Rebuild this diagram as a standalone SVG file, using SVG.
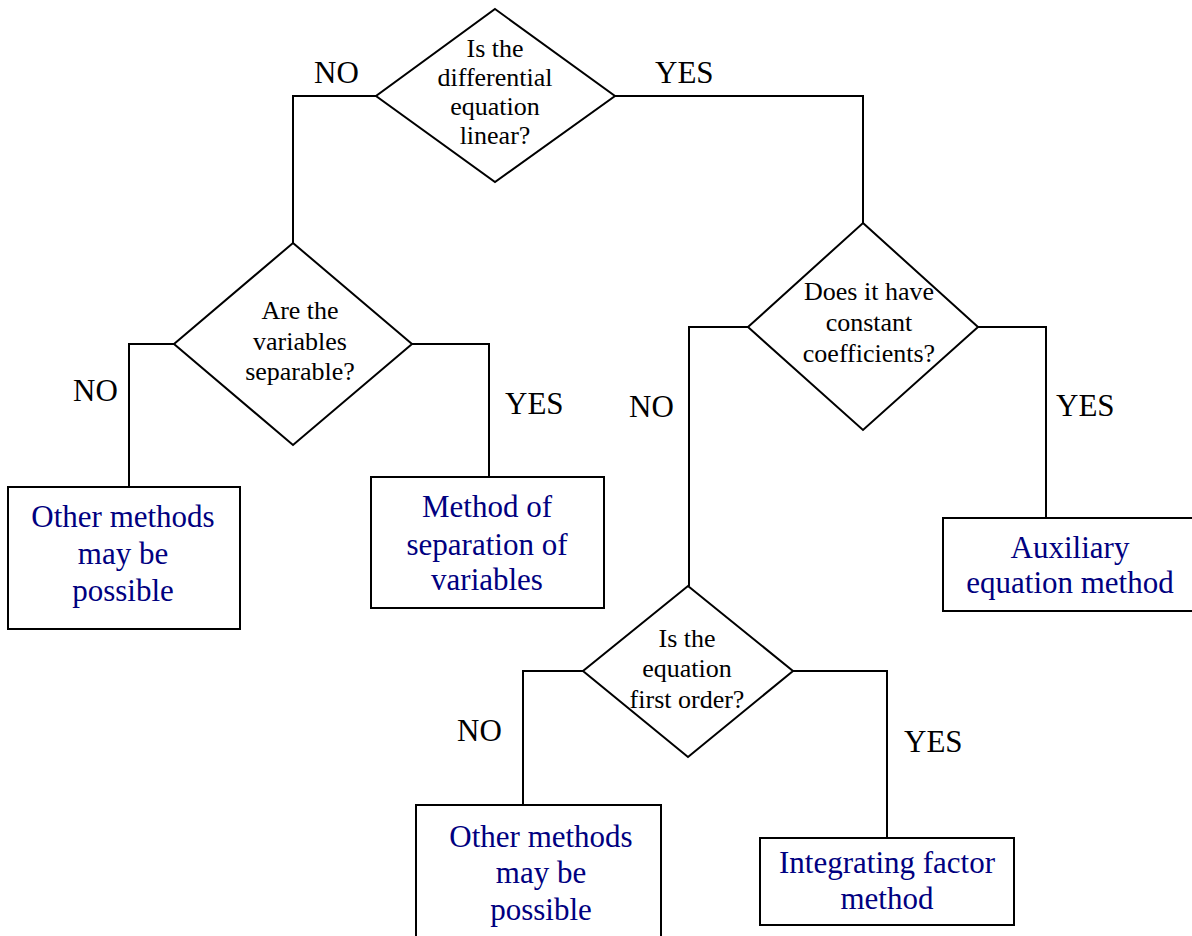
<svg xmlns="http://www.w3.org/2000/svg" width="1192" height="936" viewBox="0 0 1192 936">
<style>
.shape{fill:#fff;stroke:#000;stroke-width:2}
.conn{fill:none;stroke:#000;stroke-width:2}
.q{font-family:"Liberation Serif","Times New Roman",serif;font-size:26px;fill:#000;text-anchor:middle}
.lbl{font-family:"Liberation Serif","Times New Roman",serif;font-size:31px;fill:#000}
.ans{font-family:"Liberation Serif","Times New Roman",serif;font-size:31px;fill:#000080;text-anchor:middle}
</style>
<rect width="1192" height="936" fill="#fff"/>
<g id="connectors">
<path class="conn" d="M376,96 H293 V243"/>
<path class="conn" d="M615,96 H863 V223"/>
<path class="conn" d="M174,344 H129 V487"/>
<path class="conn" d="M412,344 H489 V477"/>
<path class="conn" d="M748,327 H689 V586"/>
<path class="conn" d="M978,327 H1046 V517"/>
<path class="conn" d="M583,671 H523 V805"/>
<path class="conn" d="M793,671 H887 V838"/>
</g>
<g id="labels">
<text class="lbl" x="314" y="83">NO</text>
<text class="lbl" x="655" y="83">YES</text>
<text class="lbl" x="73" y="401">NO</text>
<text class="lbl" x="505" y="414">YES</text>
<text class="lbl" x="629" y="417">NO</text>
<text class="lbl" x="1056" y="416">YES</text>
<text class="lbl" x="457" y="741">NO</text>
<text class="lbl" x="904" y="752">YES</text>
</g>
<g id="q-linear">
<polygon class="shape" points="495,9 615,96 495,182 376,96"/>
<text class="q" x="495" y="57">Is the</text>
<text class="q" x="495" y="86">differential</text>
<text class="q" x="495" y="115">equation</text>
<text class="q" x="495" y="144">linear?</text>
</g>
<g id="q-separable">
<polygon class="shape" points="293,243 412,344 293,445 174,344"/>
<text class="q" x="300" y="319">Are the</text>
<text class="q" x="300" y="350">variables</text>
<text class="q" x="300" y="380">separable?</text>
</g>
<g id="q-constant">
<polygon class="shape" points="863,223 978,327 863,430 748,327"/>
<text class="q" x="869" y="300">Does it have</text>
<text class="q" x="869" y="331">constant</text>
<text class="q" x="869" y="362">coefficients?</text>
</g>
<g id="q-first-order">
<polygon class="shape" points="688,586 793,671 688,757 583,671"/>
<text class="q" x="687" y="647">Is the</text>
<text class="q" x="687" y="677">equation</text>
<text class="q" x="687" y="708">first order?</text>
</g>
<g id="other-methods-1">
<rect class="shape" x="8" y="487" width="232" height="142"/>
<text class="ans" x="123" y="527">Other methods</text>
<text class="ans" x="123" y="564">may be</text>
<text class="ans" x="123" y="601">possible</text>
</g>
<g id="separation">
<rect class="shape" x="371" y="477" width="233" height="131"/>
<text class="ans" x="487" y="517">Method of</text>
<text class="ans" x="487" y="555">separation of</text>
<text class="ans" x="487" y="590">variables</text>
</g>
<g id="auxiliary">
<rect class="shape" x="943" y="518" width="260" height="93"/>
<text class="ans" x="1070" y="558">Auxiliary</text>
<text class="ans" x="1070" y="593">equation method</text>
</g>
<g id="other-methods-2">
<rect class="shape" x="416" y="805" width="245" height="150"/>
<text class="ans" x="541" y="847">Other methods</text>
<text class="ans" x="541" y="883">may be</text>
<text class="ans" x="541" y="920">possible</text>
</g>
<g id="integrating">
<rect class="shape" x="760" y="838" width="254" height="87"/>
<text class="ans" x="887" y="873">Integrating factor</text>
<text class="ans" x="887" y="909">method</text>
</g>
</svg>
